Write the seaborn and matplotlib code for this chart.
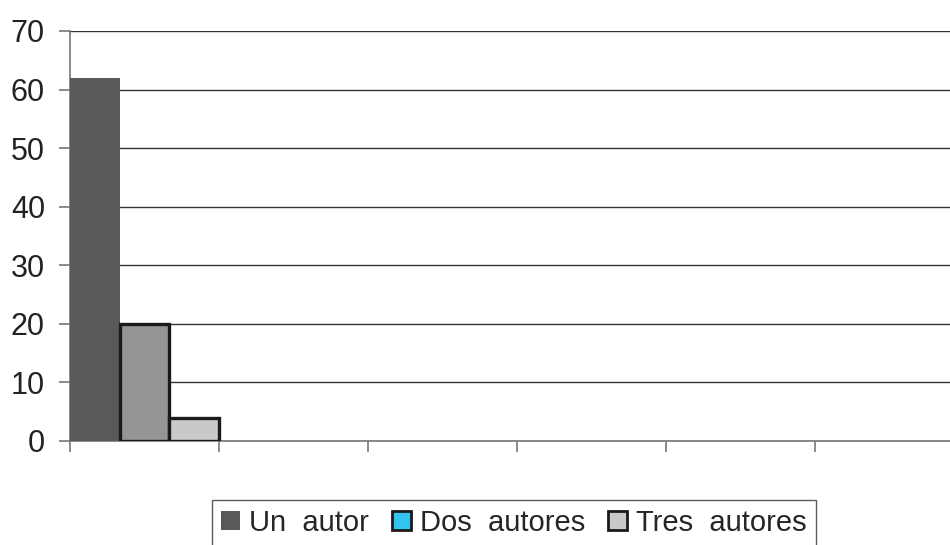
import numpy as np
import pandas as pd
import matplotlib
matplotlib.use("Agg")
import matplotlib.pyplot as plt
import seaborn as sns
from matplotlib.patches import Patch

# Datos
categorias = ["c1", "c2", "c3", "c4", "c5", "c6"]
un_autor = [62, np.nan, np.nan, np.nan, np.nan, np.nan]
dos_autores = [20, np.nan, np.nan, np.nan, np.nan, np.nan]
tres_autores = [4, np.nan, np.nan, np.nan, np.nan, np.nan]
series = ["Un autor", "Dos autores", "Tres autores"]
etiquetas_leyenda = ["Un  autor", "Dos  autores", "Tres  autores"]
y_ticks = [0, 10, 20, 30, 40, 50, 60, 70]

df = pd.DataFrame({
    "categoria": categorias * 3,
    "serie": [series[0]] * 6 + [series[1]] * 6 + [series[2]] * 6,
    "valor": un_autor + dos_autores + tres_autores,
})

sns.set_style("white")
plt.rcParams["font.family"] = ["Liberation Sans", "DejaVu Sans"]

fig = plt.figure(figsize=(9.5, 5.45), dpi=100)
ax = fig.add_axes([70 / 950, 1 - 441 / 545, 894 / 950, 410 / 545])

colores = {"Un autor": "#58595b", "Dos autores": "#939598", "Tres autores": "#c8c9cb"}
sns.barplot(data=df, x="categoria", y="valor", hue="serie", order=categorias,
            hue_order=series, palette=colores, width=1.0, gap=0,
            errorbar=None, ax=ax, legend=False, zorder=3)

# bordes negros en las barras de Dos y Tres autores
for cont, s in zip(ax.containers, series):
    for p in cont.patches:
        if s == "Un autor":
            p.set_edgecolor("none")
        else:
            p.set_edgecolor("#1a1a1a")
            p.set_linewidth(2.4)

ax.set_ylim(0, 70)
ax.set_yticks(y_ticks)
ax.set_yticklabels([str(v) for v in y_ticks], fontsize=22, color="#222222")
ax.yaxis.grid(True, color="#333333", linewidth=1.0, zorder=0)
ax.set_axisbelow(True)

n = len(categorias)
ax.set_xlim(-0.5, n - 0.5)
ax.set_xticks(np.arange(n) - 0.5)
ax.set_xticklabels([""] * n)
ax.set_xlabel("")
ax.set_ylabel("")

ax.tick_params(axis="both", which="both", direction="out", length=8, width=1.2,
               color="#777777", left=True, bottom=True)
ax.tick_params(axis="y", pad=10)

for side in ["top", "right"]:
    ax.spines[side].set_visible(False)
for side in ["left", "bottom"]:
    ax.spines[side].set_color("#777777")
    ax.spines[side].set_linewidth(1.2)

handles = [
    Patch(facecolor="#58595b", edgecolor="none", label=etiquetas_leyenda[0]),
    Patch(facecolor="#33c3f0", edgecolor="#1a1a1a", linewidth=2.0, label=etiquetas_leyenda[1]),
    Patch(facecolor="#c8c9cb", edgecolor="#1a1a1a", linewidth=2.0, label=etiquetas_leyenda[2]),
]
leg = fig.legend(handles=handles, loc="upper center", ncol=3,
                 bbox_to_anchor=(514 / 950, 1 - 500 / 545),
                 fontsize=21, frameon=True, fancybox=False,
                 handlelength=0.65, handleheight=0.65, handletextpad=0.3,
                 columnspacing=0.8, borderpad=0.3, borderaxespad=0)
leg.get_frame().set_edgecolor("#333333")
leg.get_frame().set_linewidth(1.0)

fig.savefig("out.png", dpi=100)
